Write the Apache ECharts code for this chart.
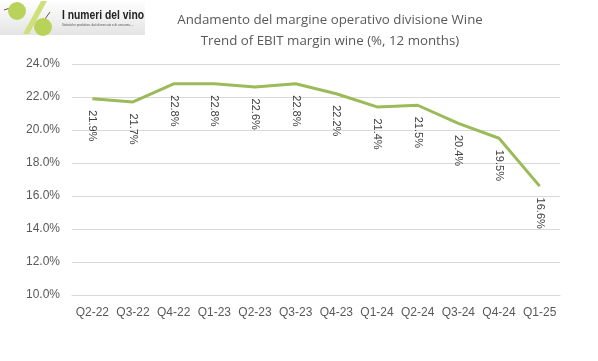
<!DOCTYPE html>
<html><head><meta charset="utf-8">
<script src="https://cdn.jsdelivr.net/npm/echarts@6/dist/echarts.min.js"></script>
<style>html,body{margin:0;padding:0;background:#fff}#c{width:598px;height:361px}</style>
</head><body><div id="c"></div>
<script>
const categories = ['Q2-22','Q3-22','Q4-22','Q1-23','Q2-23','Q3-23','Q4-23','Q1-24','Q2-24','Q3-24','Q4-24','Q1-25'];
const ebitMargin = [21.9, 21.7, 22.8, 22.8, 22.6, 22.8, 22.2, 21.4, 21.5, 20.4, 19.5, 16.6];
const yTicks = {min: 10, max: 24, interval: 2};
const titleLines = ['Andamento del margine operativo divisione Wine', 'Trend of EBIT margin wine (%, 12 months)'];

const chart = echarts.init(document.getElementById('c'), null, {renderer: 'canvas'});
chart.setOption({
  animation: false,
  backgroundColor: '#fff',
  title: {
    text: titleLines.join('\n'),
    left: 325, top: 5, textAlign: 'center',
    textStyle: {fontFamily: 'Open Sans', fontSize: 13.3, fontWeight: 'normal', color: '#595959', lineHeight: 21}
  },
  grid: {left: 72, right: 38, top: 64, bottom: 66},
  xAxis: {
    type: 'category', data: categories, boundaryGap: true,
    axisLine: {lineStyle: {color: '#d9d9d9'}}, axisTick: {show: false},
    axisLabel: {color: '#595959', fontFamily: 'Liberation Sans', fontSize: 12, margin: 12, interval: 0}
  },
  yAxis: {
    type: 'value', min: yTicks.min, max: yTicks.max, interval: yTicks.interval,
    axisLine: {show: false}, axisTick: {show: false},
    splitLine: {lineStyle: {color: '#d9d9d9'}},
    axisLabel: {color: '#595959', fontFamily: 'Liberation Sans', fontSize: 12, margin: 12,
      formatter: v => v.toFixed(1) + '%'}
  },
  series: [{
    type: 'line', data: ebitMargin, symbol: 'circle', symbolSize: 1, showSymbol: true,
    itemStyle: {color: 'rgba(0,0,0,0)'},
    lineStyle: {color: '#9bbb59', width: 3},
    labelLayout: {hideOverlap: false},
    label: {
      show: true, position: 'bottom', distance: 11, rotate: -90,
      align: 'left', verticalAlign: 'middle',
      color: '#404040', fontFamily: 'Liberation Sans', fontSize: 11,
      formatter: p => p.value.toFixed(1) + '%'
    }
  }],
  graphic: [
    {type: 'rect', shape: {x: 0, y: 0, width: 145, height: 35}, style: {
      fill: new echarts.graphic.LinearGradient(0, 0, 0, 1, [{offset: 0, color: '#ffffff'}, {offset: 1, color: '#e4e4e4'}])}},
    {type: 'polygon', shape: {points: [[41, 1], [47, 1], [29, 34], [23, 34]]}, style: {fill: '#cfe07a'}},
    {type: 'line', shape: {x1: 10, y1: 8, x2: 4, y2: 10}, style: {stroke: '#6b5a3a', lineWidth: 1}},
    {type: 'circle', shape: {cx: 17, cy: 11, r: 9}, style: {fill: '#b9d35a'}},
    {type: 'line', shape: {x1: 45, y1: 19, x2: 50, y2: 12}, style: {stroke: '#6b5a3a', lineWidth: 1}},
    {type: 'circle', shape: {cx: 43, cy: 27, r: 9}, style: {fill: '#b9d35a'}},
    {type: 'text', x: 62, y: 10, scaleX: 0.86, style: {text: 'I numeri del vino', fontFamily: 'Liberation Sans', fontSize: 12, fontWeight: 'bold', fill: '#222'}},
    {type: 'text', left: 62, top: 24, style: {text: 'Statistiche produttive, dati di mercato e di consumo, ...', fontFamily: 'Liberation Sans', fontSize: 3, fill: '#555'}}
  ]
});
</script></body></html>
